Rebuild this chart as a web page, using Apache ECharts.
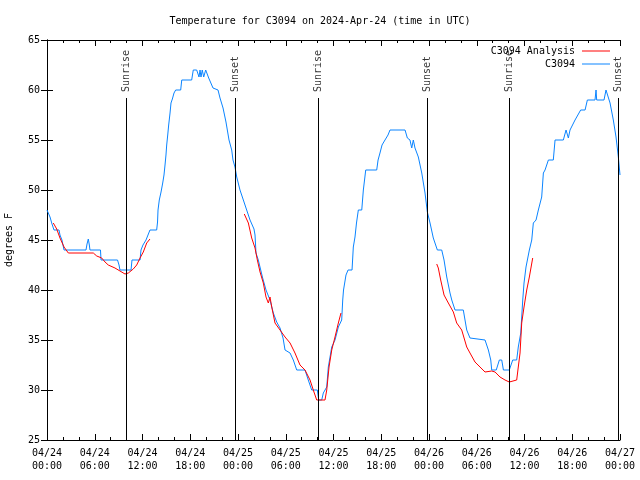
<!DOCTYPE html>
<html><head><meta charset="utf-8">
<script src="https://cdn.jsdelivr.net/npm/echarts@6/dist/echarts.min.js"></script>
<style>html,body{margin:0;padding:0;background:#fff}#c{width:640px;height:480px}</style>
</head><body><div id="c"></div>
<script>
// time in hours since 2024-04-24 00:00 UTC
const blueT = [0.00,0.25,0.38,0.63,0.88,1.51,1.63,1.88,2.01,2.14,4.90,5.03,5.19,5.32,5.40,6.72,6.79,8.86,9.05,9.17,10.56,10.68,11.69,11.81,12.06,12.44,12.69,12.94,13.78,13.89,13.95,14.11,14.33,14.54,14.70,14.83,14.95,15.04,15.17,15.29,15.46,15.58,15.75,15.96,16.17,16.80,16.93,18.18,18.38,18.81,19.10,19.23,19.35,19.51,19.69,19.94,20.17,20.32,20.57,20.86,21.49,21.74,22.12,22.49,22.87,23.21,23.37,23.62,23.84,24.25,24.67,25.09,25.51,26.01,26.14,26.26,26.55,27.10,27.52,28.02,28.44,28.86,29.28,29.66,29.91,30.54,30.95,31.38,32.42,32.83,33.26,33.97,34.14,34.52,34.72,35.15,35.35,35.78,36.19,36.61,37.03,37.16,37.26,37.57,37.83,38.33,38.49,38.70,38.89,39.12,39.55,39.75,40.05,41.43,41.60,41.84,42.10,42.47,42.85,43.10,44.99,45.28,45.61,45.83,46.03,46.24,46.66,47.09,47.50,47.79,48.13,48.54,49.05,49.60,49.89,50.23,50.64,50.86,51.27,52.31,52.74,53.15,53.37,55.04,55.46,55.76,55.88,56.45,56.84,57.14,57.35,58.09,58.52,59.02,59.22,59.53,59.78,59.94,60.19,60.61,60.91,61.11,61.45,61.74,62.16,62.37,62.58,63.00,63.62,63.84,64.88,65.22,65.51,65.72,66.35,67.06,67.61,67.90,68.86,68.99,69.07,69.99,70.24,70.43,70.75,71.16,71.50,71.79,72.00];
const blueV = [48.0,48.0,47.3,46.6,46.0,46.0,45.5,45.0,44.5,44.0,44.0,44.6,45.1,44.5,44.0,44.0,43.0,43.0,42.5,42.0,42.0,43.0,43.0,44.0,44.5,45.0,45.5,46.0,46.0,46.8,48.0,49.0,49.8,50.7,51.5,52.5,53.5,54.5,55.5,56.5,57.7,58.7,59.1,59.7,60.0,60.0,61.0,61.0,62.0,62.0,61.3,62.0,61.3,62.0,61.3,62.0,62.0,61.2,61.2,60.2,60.0,59.2,58.2,56.8,55.0,54.0,53.0,52.3,51.3,50.0,49.0,48.0,47.0,46.1,45.5,43.7,43.0,41.2,40.0,39.0,37.7,36.8,36.2,35.2,34.0,33.7,33.0,32.0,32.0,31.0,30.0,30.0,29.0,29.0,29.7,30.3,32.3,34.3,35.0,36.3,37.0,39.0,40.0,41.5,42.0,42.0,44.3,45.3,46.7,48.0,48.0,50.0,52.0,52.0,53.0,53.7,54.5,55.0,55.5,56.0,56.0,55.2,55.0,54.2,55.0,54.2,53.3,51.7,49.7,47.8,46.7,45.2,44.0,44.0,43.0,41.3,39.7,39.0,38.0,38.0,36.0,35.2,35.0,35.0,34.0,33.0,32.0,32.0,33.0,33.0,32.0,32.0,33.0,33.0,34.3,35.7,39.0,40.7,42.3,44.0,45.0,46.7,47.0,48.0,49.3,51.7,52.0,53.0,53.0,55.0,55.0,56.0,55.2,56.0,57.0,58.0,58.0,59.0,59.0,60.0,59.0,59.0,60.0,60.0,58.7,57.0,55.3,53.3,51.5];
// analysis: three segments, separated by gaps ('-')
const redT = [0.79,1.22,1.63,2.14,2.68,5.82,6.25,6.87,7.29,7.70,8.54,9.17,9.80,10.22,10.84,11.27,11.69,12.10,12.53,12.94,
  18.0,
  24.79,25.30,25.72,26.14,26.43,26.77,27.18,27.52,27.81,28.02,28.24,28.65,29.28,29.91,30.54,31.16,31.79,32.42,33.05,33.46,33.89,34.93,35.15,35.44,35.78,36.19,36.61,36.94,
  42.0,
  48.97,49.17,49.47,49.89,50.43,51.06,51.48,52.11,52.74,53.15,53.78,54.41,55.04,55.88,56.30,56.92,57.55,58.09,59.02,59.22,59.44,59.65,59.94,60.28,60.61,61.03];
const redV = [46.7,46.1,45.2,44.3,43.7,43.7,43.4,43.2,42.8,42.5,42.2,41.9,41.6,41.7,42.1,42.5,43.2,43.8,44.7,45.1,
  '-',
  47.6,46.7,45.2,44.2,43.0,41.8,40.7,39.3,38.7,39.3,38.3,36.7,36.0,35.3,34.7,33.7,32.5,32.0,31.0,30.0,29.0,29.0,30.0,32.3,34.0,35.3,36.7,37.7,
  '-',
  42.6,42.2,41.0,39.5,38.7,37.8,36.7,36.0,34.3,33.7,32.8,32.3,31.8,31.9,31.8,31.3,31.0,30.8,31.0,32.3,33.7,36.7,38.3,40.0,41.3,43.2];
const sunriseT = [9.93, 34.05, 58.05];
const sunsetT = [23.69, 47.81, 71.75];
const titleText = 'Temperature for C3094 on 2024-Apr-24 (time in UTC)';
const yName = 'degrees F';
const seriesNames = ['C3094 Analysis', 'C3094'];

const FONT = 'DejaVu Sans Mono';
const pad = n => (n < 10 ? '0' : '') + n;
const xFmt = v => '04/' + (24 + Math.floor(v / 24)) + '\n' + pad(v % 24) + ':00';

const sunEvents = sunriseT.map(t => [t, 'Sunrise']).concat(sunsetT.map(t => [t, 'Sunset']));
const LABEL_BASE = 59.8, LINE_TOP = 59.2;

const chart = echarts.init(document.getElementById('c'), null, {renderer: 'canvas'});
const axisCommon = {
  axisLine: {show: true, lineStyle: {color: '#000', width: 1}},
  splitLine: {show: false}
};
chart.setOption({
  animation: false,
  backgroundColor: '#fff',
  title: {text: titleText, left: 'center', top: 11,
    textStyle: {fontFamily: FONT, fontSize: 10, fontWeight: 'normal', color: '#000'}},
  legend: {
    data: seriesNames, orient: 'vertical', right: 25, top: 41, align: 'right',
    icon: 'rect', itemWidth: 28, itemHeight: 1, itemGap: 3,
    textStyle: {fontFamily: FONT, fontSize: 10, color: '#000', padding: [0, 2, 0, 0]}
  },
  grid: {left: 47, right: 20, top: 40, bottom: 40, containLabel: false, outerBoundsMode: 'none'},
  xAxis: [
    Object.assign({type: 'value', min: 0, max: 72, interval: 6, position: 'bottom',
      axisTick: {show: true, inside: true, length: 6, lineStyle: {color: '#000'}},
      minorTick: {show: true, splitNumber: 3, length: 3, lineStyle: {color: '#000'}},
      axisLabel: {formatter: xFmt, fontFamily: FONT, fontSize: 10, color: '#000', lineHeight: 13, margin: 7,
        showMinLabel: true, showMaxLabel: true}}, axisCommon),
    Object.assign({type: 'value', min: 0, max: 72, interval: 6, position: 'top',
      axisTick: {show: true, inside: true, length: 6, lineStyle: {color: '#000'}},
      minorTick: {show: true, splitNumber: 3, length: 3, lineStyle: {color: '#000'}},
      axisLabel: {show: false}}, axisCommon)
  ],
  yAxis: [
    Object.assign({type: 'value', min: 25, max: 65, interval: 5, position: 'left',
      name: yName, nameLocation: 'middle', nameGap: 33, nameRotate: 90,
      nameTextStyle: {fontFamily: FONT, fontSize: 10, color: '#000'},
      axisTick: {show: true, inside: true, length: 6, lineStyle: {color: '#000'}},
      axisLabel: {fontFamily: FONT, fontSize: 10, color: '#000', margin: 7}}, axisCommon),
    Object.assign({type: 'value', min: 25, max: 65, interval: 5, position: 'right',
      axisTick: {show: true, inside: true, length: 6, lineStyle: {color: '#000'}},
      axisLabel: {show: false}}, axisCommon)
  ],
  series: [
    {
      name: 'sun', type: 'scatter', symbolSize: 0, silent: true, z: 1,
      data: sunEvents.map(e => ({value: [e[0], LABEL_BASE], name: e[1]})),
      label: {show: true, formatter: p => p.name, rotate: 90, position: 'inside',
        align: 'left', verticalAlign: 'middle',
        fontFamily: FONT, fontSize: 10, color: '#000'},
      markLine: {
        silent: true, symbol: ['none', 'none'], label: {show: false},
        lineStyle: {color: '#000', width: 1, type: 'solid'},
        data: sunEvents.map(e => [{coord: [e[0], LINE_TOP]}, {coord: [e[0], 25]}])
      }
    },
    {
      name: seriesNames[0], type: 'line', showSymbol: false, connectNulls: false, z: 3,
      data: redT.map((t, i) => [t, redV[i]]),
      lineStyle: {color: '#ff0000', width: 1}, itemStyle: {color: '#ff0000'}
    },
    {
      name: seriesNames[1], type: 'line', showSymbol: false, z: 2,
      data: blueT.map((t, i) => [t, blueV[i]]),
      lineStyle: {color: '#0a84ff', width: 1}, itemStyle: {color: '#0a84ff'}
    }
  ]
});
</script>
</body></html>
